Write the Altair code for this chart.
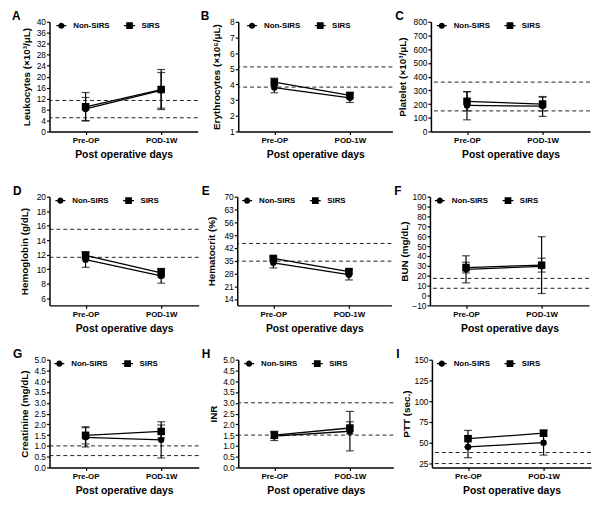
import altair as alt
import pandas as pd

days = ["Pre-OP", "POD-1W"]
groups = ["Non-SIRS", "SIRS"]

# A  Leukocytes
leuk_mean = {"Non-SIRS": [8.2, 15.0], "SIRS": [9.0, 15.3]}
leuk_lo = {"Non-SIRS": [4.0, 8.5], "SIRS": [3.8, 8.0]}
leuk_hi = {"Non-SIRS": [12.4, 21.5], "SIRS": [14.2, 22.6]}
leuk_ref = [11.3, 5.0]
leuk_ticks = [0, 4, 8, 12, 16, 20, 24, 28, 32, 36, 40]

# B  Erythrocytes
ery_mean = {"Non-SIRS": [3.8, 3.15], "SIRS": [4.15, 3.3]}
ery_lo = {"Non-SIRS": [3.47, 2.85], "SIRS": [3.9, 3.15]}
ery_hi = {"Non-SIRS": [4.13, 3.45], "SIRS": [4.4, 3.45]}
ery_ref = [5.12, 3.83]
ery_ticks = [1, 2, 3, 4, 5, 6, 7, 8]

# C  Platelet
plt_mean = {"Non-SIRS": [190, 185], "SIRS": [220, 200]}
plt_lo = {"Non-SIRS": [85, 110], "SIRS": [150, 150]}
plt_hi = {"Non-SIRS": [290, 255], "SIRS": [290, 250]}
plt_ref = [360, 150]
plt_ticks = [0, 100, 200, 300, 400, 500, 600, 700, 800]

# D  Hemoglobin
hgb_mean = {"Non-SIRS": [11.3, 9.07], "SIRS": [11.9, 9.5]}
hgb_lo = {"Non-SIRS": [10.25, 8.07], "SIRS": [11.4, 8.9]}
hgb_hi = {"Non-SIRS": [12.35, 10.07], "SIRS": [12.4, 10.1]}
hgb_ref = [15.5, 11.63]
hgb_ticks = [6, 8, 10, 12, 14, 16, 18, 20]

# E  Hematocrit
hct_mean = {"Non-SIRS": [33.8, 27.3], "SIRS": [36.2, 29.0]}
hct_lo = {"Non-SIRS": [31.0, 24.4], "SIRS": [35.0, 28.0]}
hct_hi = {"Non-SIRS": [36.6, 30.2], "SIRS": [37.4, 30.0]}
hct_ref = [44.4, 34.7]
hct_ticks = [14, 21, 28, 35, 42, 49, 56, 63, 70]

# F  BUN
bun_mean = {"Non-SIRS": [26.5, 29.5], "SIRS": [28.3, 30.7]}
bun_lo = {"Non-SIRS": [12.8, 2.0], "SIRS": [22.9, 23.7]}
bun_hi = {"Non-SIRS": [40.2, 59.5], "SIRS": [33.7, 37.7]}
bun_ref = [17.3, 7.3]
bun_ticks = [-10, 0, 10, 20, 30, 40, 50, 60, 70, 80, 90, 100]

# G  Creatinine
cre_mean = {"Non-SIRS": [1.40, 1.28], "SIRS": [1.49, 1.67]}
cre_lo = {"Non-SIRS": [0.95, 0.44], "SIRS": [1.09, 1.37]}
cre_hi = {"Non-SIRS": [1.85, 2.12], "SIRS": [1.89, 1.97]}
cre_ref = [1.0, 0.55]
cre_ticks = [0.0, 0.5, 1.0, 1.5, 2.0, 2.5, 3.0, 3.5, 4.0, 4.5, 5.0]

# H  INR
inr_mean = {"Non-SIRS": [1.45, 1.68], "SIRS": [1.5, 1.83]}
inr_lo = {"Non-SIRS": [1.25, 0.77], "SIRS": [1.35, 1.55]}
inr_hi = {"Non-SIRS": [1.65, 2.6], "SIRS": [1.68, 2.12]}
inr_ref = [3.0, 1.5]
inr_ticks = [0.0, 0.5, 1.0, 1.5, 2.0, 2.5, 3.0, 3.5, 4.0, 4.5, 5.0]

# I  PTT
ptt_mean = {"Non-SIRS": [44.7, 49.9], "SIRS": [54.7, 61.3]}
ptt_lo = {"Non-SIRS": [31.7, 34.9], "SIRS": [44.7, 58.0]}
ptt_hi = {"Non-SIRS": [57.7, 64.9], "SIRS": [64.7, 64.5]}
ptt_ref = [38.0, 24.7]
ptt_ticks = [25, 50, 75, 100, 125, 150]

FONT = "Liberation Sans, Arial, sans-serif"
CIRCLE_KEY = "M-1,-0.13H1V0.13H-1ZM0.62,0A0.62,0.62 0 1,1 -0.62,0A0.62,0.62 0 1,1 0.62,0Z"
SQUARE_KEY = "M-1.1,-0.13H1.1V0.13H-1.1ZM-0.68,-0.68H0.68V0.68H-0.68Z"

PRE_X, POD_X = 36.5, 113.0  # layout of the two categories inside a panel


def panel(letter, ytitle, mean, lo, hi, ref, ticks, domain, width, height,
          letter_dx, title_x, legend_x, fmt=None):
    rows = []
    for g in groups:
        for i, d in enumerate(days):
            rows.append({"day": d, "group": g, "mean": mean[g][i],
                         "lo": lo[g][i], "hi": hi[g][i]})
    df = pd.DataFrame(rows)
    ref_df = pd.DataFrame({"ref": ref})

    step = POD_X - PRE_X
    pad = (width - step) / (2 * step)
    align = PRE_X / (width - step)
    xs = alt.Scale(type="point", domain=days, padding=pad, align=align)
    ys = alt.Scale(domain=domain, nice=False, zero=False)
    xax = alt.Axis(title="Post operative days", labelAngle=0, labelFont=FONT,
                   labelFontSize=8, labelFontWeight="bold", labelPadding=2,
                   tickSize=3, tickWidth=1.2, domainWidth=1.5, titleFont=FONT,
                   titleFontSize=10.5, titleFontWeight="bold", titleY=23,
                   titleBaseline="middle")
    yargs = dict(values=ticks, title=ytitle, labelFont=FONT, labelFontSize=8.5,
                 labelPadding=1, tickSize=3, tickWidth=1.2, domainWidth=1.5,
                 titleFont=FONT, titleFontSize=10, titleFontWeight="bold",
                 titleX=title_x, titleY=height / 2, titleBaseline="middle",
                 grid=False)
    if fmt:
        yargs["format"] = fmt
    yax = alt.Axis(**yargs)

    def X():
        return alt.X("day:N", scale=xs, axis=xax)

    base = alt.Chart(df)
    refs = alt.Chart(ref_df).mark_rule(strokeDash=[4, 3], strokeWidth=1, color="#222").encode(
        y=alt.Y("ref:Q", scale=ys, axis=yax))
    bars = base.mark_rule(strokeWidth=1.2, color="black").encode(
        x=X(), y=alt.Y("lo:Q", scale=ys, axis=yax), y2="hi:Q")
    cap_lo = base.mark_tick(thickness=1.2, size=8, color="black").encode(
        x=X(), y=alt.Y("lo:Q", scale=ys, axis=yax))
    cap_hi = base.mark_tick(thickness=1.2, size=8, color="black").encode(
        x=X(), y=alt.Y("hi:Q", scale=ys, axis=yax))
    lines = base.mark_line(strokeWidth=1.3, color="black").encode(
        x=X(), y=alt.Y("mean:Q", scale=ys, axis=yax), detail="group:N")
    circles = base.transform_filter(alt.datum.group == "Non-SIRS").mark_point(
        filled=True, shape="circle", size=42, color="black", opacity=1).encode(
        x=X(), y=alt.Y("mean:Q", scale=ys, axis=yax))
    squares = base.transform_filter(alt.datum.group == "SIRS").mark_point(
        filled=True, shape="square", size=58, color="black", opacity=1).encode(
        x=X(), y=alt.Y("mean:Q", scale=ys, axis=yax))
    key = base.mark_point(filled=True, opacity=0, color="black").encode(
        x=X(), y=alt.Y("mean:Q", scale=ys, axis=yax),
        shape=alt.Shape("group:N",
                        scale=alt.Scale(domain=groups, range=[CIRCLE_KEY, SQUARE_KEY]),
                        legend=alt.Legend(orient="none", legendX=legend_x, legendY=-1,
                                          direction="horizontal", columns=2, title=None,
                                          symbolSize=100, symbolFillColor="black",
                                          symbolStrokeWidth=0, symbolOpacity=1,
                                          labelFont=FONT, labelFontSize=8,
                                          labelFontWeight="bold", labelOffset=7,
                                          columnPadding=14, padding=0)))
    return alt.layer(refs, bars, cap_lo, cap_hi, lines, circles, squares, key).properties(
        width=width, height=height,
        title=alt.TitleParams(text=letter, anchor="start", frame="group", dx=-letter_dx,
                              fontSize=12, fontWeight="bold", font=FONT, offset=-5))


A = panel("A", "Leukocytes (×10³/μL)", leuk_mean, leuk_lo, leuk_hi, leuk_ref, leuk_ticks,
          [0, 40], 150, 111, 38, -23, 7)
B = panel("B", "Erythrocytes (×10⁶/μL)", ery_mean, ery_lo, ery_hi, ery_ref, ery_ticks,
          [1, 8], 156, 111, 38, -22, 9)
C = panel("C", "Platelet (×10³/μL)", plt_mean, plt_lo, plt_hi, plt_ref, plt_ticks,
          [0, 800], 161, 111, 36, -29, 6)
D = panel("D", "Hemoglobin (g/dL)", hgb_mean, hgb_lo, hgb_hi, hgb_ref, hgb_ticks,
          [5, 20], 151, 110, 37, -25, 6)
E = panel("E", "Hematocrit (%)", hct_mean, hct_lo, hct_hi, hct_ref, hct_ticks,
          [10.5, 70], 156, 110, 36, -26, 5)
F = panel("F", "BUN (mg/dL)", bun_mean, bun_lo, bun_hi, bun_ref, bun_ticks,
          [-10, 100], 161, 110, 36, -26, 5)
G = panel("G", "Creatinine (mg/dL)", cre_mean, cre_lo, cre_hi, cre_ref, cre_ticks,
          [0, 5], 151, 109, 37, -25, 5, fmt=".1f")
H = panel("H", "INR", inr_mean, inr_lo, inr_hi, inr_ref, inr_ticks,
          [0, 5], 157, 109, 37, -25, 6, fmt=".1f")
I = panel("I", "PTT (sec.)", ptt_mean, ptt_lo, ptt_hi, ptt_ref, ptt_ticks,
          [20, 150], 161, 109, 36, -26, 5)


def indep(c):
    return c.resolve_scale(shape="independent", x="independent", y="independent").resolve_legend(
        shape="independent")


row1 = indep(alt.hconcat(A, B, C, spacing=2))
row2 = indep(alt.hconcat(D, E, F, spacing=2))
row3 = indep(alt.hconcat(G, H, I, spacing=2))
rows23 = indep(alt.vconcat(row2, row3, spacing=14))
chart = indep(alt.vconcat(row1, rows23, spacing=25)).properties(
    padding={"left": 4, "top": -1, "right": 0, "bottom": 0}
).configure_view(stroke=None).configure_axis(
    domainColor="black", tickColor="black", labelColor="black", titleColor="black"
).configure_legend(labelColor="black")

chart.save("out.html", embed_options={"renderer": "svg", "actions": False})
